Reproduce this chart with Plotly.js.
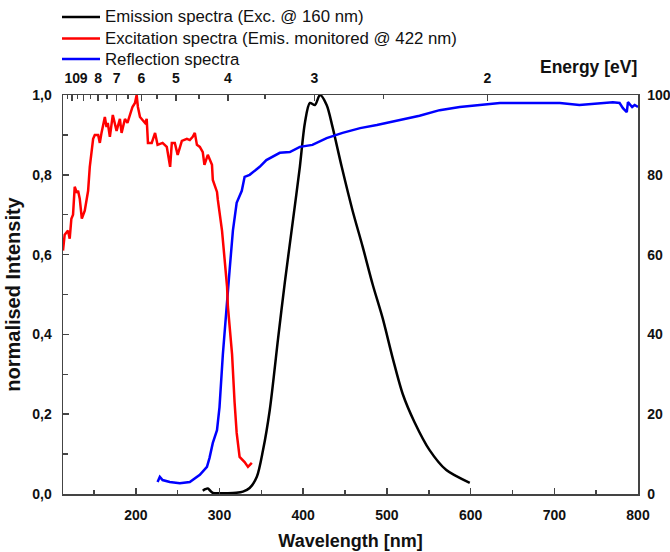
<!DOCTYPE html>
<html>
<head>
<meta charset="utf-8">
<script src="https://cdn.plot.ly/plotly-3.0.1.min.js"></script>
<style>html,body{margin:0;padding:0;background:#fff;}#chart{width:670px;height:552px;}</style>
</head>
<body>
<div id="chart"></div>
<script>
// Emission spectrum (Exc. @ 160 nm), normalised intensity
const emissionWavelength = [280, 283, 286, 289, 292, 300, 310, 320, 328, 336, 344.6, 352, 360, 370, 378, 388, 396, 402, 408, 414, 420, 428, 435, 446, 459, 471, 483, 495, 507, 519, 533, 551, 571, 599];
const emissionIntensity  = [0.008, 0.012, 0.014, 0.008, 0.003, 0.002, 0.002, 0.003, 0.006, 0.015, 0.043, 0.11, 0.21, 0.39, 0.53, 0.69, 0.82, 0.93, 0.98, 0.975, 1.0, 0.975, 0.92, 0.82, 0.71, 0.62, 0.525, 0.44, 0.34, 0.25, 0.18, 0.11, 0.06, 0.028];

// Excitation spectrum (Emis. monitored @ 422 nm), normalised intensity
const excitationWavelength = [113, 115, 119, 121, 123, 125, 127, 129.5, 131, 133, 135.5, 139, 143, 145, 149, 151, 155, 157, 159, 163, 165, 166.5, 169, 172.5, 177, 181, 183, 187, 190, 193, 196, 199, 201, 202.5, 205, 207, 211, 213, 214.5, 219, 223, 226, 232, 237, 241, 243, 246.6, 250, 255, 261, 264.5, 268, 270.5, 273, 276.5, 280, 282, 286, 291, 292, 297, 298, 303, 306, 309, 310, 315, 318, 320.5, 324, 330, 334, 338.6];
const excitationIntensity  = [0.61, 0.65, 0.66, 0.64, 0.69, 0.70, 0.77, 0.755, 0.76, 0.74, 0.69, 0.71, 0.76, 0.82, 0.89, 0.90, 0.90, 0.88, 0.905, 0.945, 0.92, 0.93, 0.895, 0.95, 0.91, 0.94, 0.905, 0.94, 0.93, 0.95, 0.97, 0.98, 1.0, 0.97, 0.945, 0.94, 0.93, 0.94, 0.88, 0.88, 0.905, 0.875, 0.88, 0.87, 0.82, 0.88, 0.88, 0.85, 0.885, 0.89, 0.887, 0.895, 0.905, 0.875, 0.87, 0.857, 0.825, 0.85, 0.825, 0.787, 0.757, 0.737, 0.66, 0.59, 0.52, 0.47, 0.35, 0.23, 0.153, 0.093, 0.08, 0.068, 0.078];

// Reflection spectrum (right axis, 0-100)
const reflectionWavelength = [226, 228.7, 232, 240.6, 252.6, 264.5, 276.5, 285, 288, 292, 297, 300, 304, 309, 312, 316, 320.5, 326.6, 330, 336, 342, 348, 356, 360, 372, 384, 396, 411, 428, 447, 468, 488, 507, 527, 539, 563, 587, 611, 635, 659, 683, 706.6, 730, 754, 770, 778, 782, 786.6, 788, 793, 796, 800];
const reflectionValue      = [3.0, 4.3, 3.5, 3.0, 2.7, 3.0, 4.8, 6.8, 9, 12.8, 16, 21.8, 35, 47, 56, 66, 73, 76, 79.5, 80, 81, 82, 83.7, 84.2, 85.5, 85.7, 87, 87.5, 89.2, 90.5, 91.7, 92.5, 93.4, 94.2, 94.8, 96.2, 97, 97.5, 98, 98, 98, 98, 97.5, 98, 98.2, 98, 96.7, 95.7, 98.2, 97, 97.5, 97];

// Top axis: photon energy labels (eV)
const energyTicks = [10, 9, 8, 7, 6, 5, 4, 3, 2];
const energyMinorTicks = [10.5, 9.5, 8.5, 7.5, 6.5, 5.5, 4.5, 3.5, 2.5];
const HC = 1239.84; // nm*eV

// Legend entries
const legendNames  = ['Emission spectra (Exc. @ 160 nm)', 'Excitation spectra (Emis. monitored @ 422 nm)', 'Reflection spectra'];
const legendColors = ['#000000', '#ff0000', '#0000ff'];

const FONT = 'Liberation Sans, Arial, Helvetica, sans-serif';
const AX = '#444';
const tickFont = {family: FONT, size: 14, color: '#111', weight: 'bold'};

const traces = [
  {x: emissionWavelength, y: emissionIntensity, type: 'scatter', mode: 'lines',
   name: legendNames[0], line: {color: legendColors[0], width: 2.5, shape: 'spline', smoothing: 0.8}, xaxis: 'x', yaxis: 'y'},
  {x: excitationWavelength, y: excitationIntensity, type: 'scatter', mode: 'lines',
   name: legendNames[1], line: {color: legendColors[1], width: 2.5}, xaxis: 'x2', yaxis: 'y'},
  {x: reflectionWavelength, y: reflectionValue, type: 'scatter', mode: 'lines',
   name: legendNames[2], line: {color: legendColors[2], width: 2.5}, xaxis: 'x', yaxis: 'y2'}
];

const xr = [113, 800];
// pixel helpers for the hand-placed legend (plot area: 63..638 x, 95..494 y)
const px = v => (v - 63) / 575;
const py = v => (494 - v) / 399;
const legendRows = [17, 38.5, 59];

const shapes = legendNames.map((n, i) => ({
  type: 'line', xref: 'paper', yref: 'paper', x0: px(62), x1: px(100), y0: py(legendRows[i]), y1: py(legendRows[i]),
  line: {color: legendColors[i], width: 2.5}
}));
const legendTexts = legendNames.map((n, i) => ({
  text: n, xref: 'paper', yref: 'paper', x: px(103), y: py(legendRows[i]), xanchor: 'left', yanchor: 'middle',
  showarrow: false, font: {family: FONT, size: 16.8, color: '#111'}
}));

const layout = {
  width: 670, height: 552,
  margin: {l: 63, r: 32, t: 95, b: 58, pad: 0, autoexpand: false},
  paper_bgcolor: '#ffffff', plot_bgcolor: '#ffffff',
  separators: ',.',
  font: {family: FONT, color: '#111'},
  showlegend: false,
  xaxis: {range: xr, showline: true, linecolor: AX, linewidth: 1.5, mirror: false,
          ticks: 'inside', ticklen: 6, tickwidth: 1.5, tickcolor: AX, tick0: 0, dtick: 100, tickangle: 0,
          minor: {dtick: 50, tick0: 0, ticks: 'inside', ticklen: 4, tickwidth: 1.5, tickcolor: AX},
          showgrid: false, zeroline: false, tickfont: tickFont, ticklabelstandoff: 8,
          title: {text: 'Wavelength [nm]', font: {family: FONT, size: 18, color: '#111', weight: 'bold'}, standoff: 12}},
  xaxis2: {range: xr, overlaying: 'x', side: 'top', matches: 'x', showline: true, linecolor: AX, linewidth: 1.5,
           tickmode: 'array', tickvals: energyTicks.map(e => HC / e), ticktext: energyTicks.map(String), tickangle: 0,
           ticks: 'inside', ticklen: 6, tickwidth: 1.5, tickcolor: AX,
           minor: {tickmode: 'array', tickvals: energyMinorTicks.map(e => HC / e), ticks: 'inside', ticklen: 4, tickwidth: 1.5, tickcolor: AX},
           showgrid: false, zeroline: false, tickfont: tickFont, ticklabelstandoff: 5},
  yaxis: {range: [0, 1], showline: true, linecolor: AX, linewidth: 1.5,
          ticks: 'inside', ticklen: 6, tickwidth: 1.5, tickcolor: AX, tick0: 0, dtick: 0.2, tickformat: '.1f',
          minor: {dtick: 0.1, tick0: 0, ticks: 'inside', ticklen: 5, tickwidth: 1.5, tickcolor: AX},
          showgrid: false, zeroline: false, tickfont: tickFont, ticklabelstandoff: 7,
          title: {text: 'normalised Intensity', font: {family: FONT, size: 20, color: '#111', weight: 'bold'}, standoff: 6}},
  yaxis2: {range: [0, 100], overlaying: 'y', side: 'right', showline: true, linecolor: AX, linewidth: 1.5,
           ticks: '', tick0: 0, dtick: 20, showgrid: false, zeroline: false, tickfont: tickFont, ticklabelstandoff: 5},
  shapes: shapes,
  annotations: legendTexts.concat([
    {text: 'Energy [eV]', xref: 'paper', yref: 'paper', x: px(588), y: py(67), showarrow: false,
     xanchor: 'center', yanchor: 'middle', font: {family: FONT, size: 17.5, color: '#111', weight: 'bold'}},
    {text: 'Reflectance [a.u.]', xref: 'paper', yref: 'paper', x: px(678), y: py(273), showarrow: false,
     textangle: -90, xanchor: 'center', yanchor: 'middle', font: {family: FONT, size: 17, color: '#777', weight: 'bold'}}
  ])
};

Plotly.newPlot('chart', traces, layout, {displayModeBar: false, staticPlot: true});
</script>
</body>
</html>
